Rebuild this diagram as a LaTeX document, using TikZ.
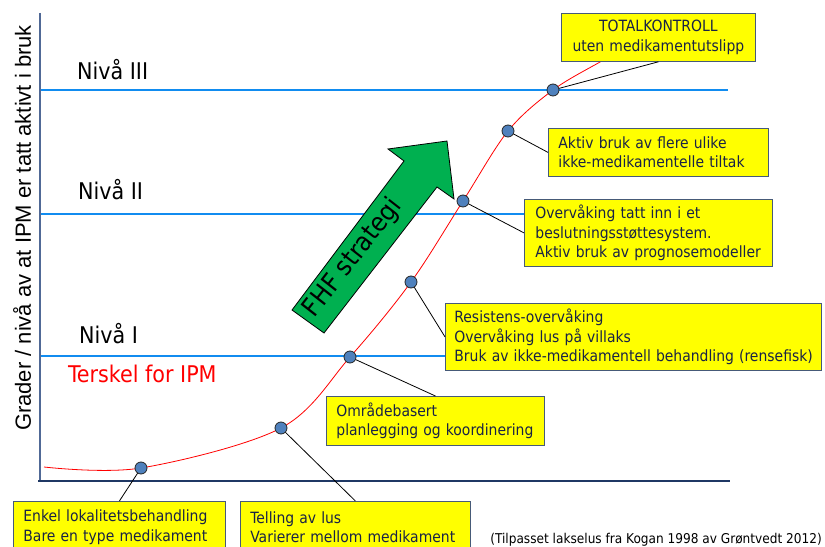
\documentclass[tikz,border=0pt]{standalone}
\usepackage{fontspec}
\setmainfont{DejaVu Sans Condensed}
\newfontfamily\arialf{Liberation Sans}
\definecolor{lvlblue}{RGB}{17,140,240}
\definecolor{axisnavy}{RGB}{31,56,100}
\definecolor{axisv}{RGB}{80,105,150}
\definecolor{dotblue}{RGB}{79,129,189}
\definecolor{boxtext}{RGB}{25,35,70}
\definecolor{boxedge}{RGB}{70,90,120}
\definecolor{arrowgreen}{RGB}{0,176,80}
\definecolor{yel}{RGB}{255,255,0}
\begin{document}
\begin{tikzpicture}[x=1bp,y=-1bp,
 ybox/.style={draw=boxedge, line width=0.8bp, fill=yel, text=boxtext,
   font=\fontsize{15.5bp}{19.5bp}\selectfont, anchor=north west,
   inner xsep=10bp, inner ysep=0pt, align=left},
 dot/.style={circle, draw=black!85, fill=dotblue, line width=0.8bp,
   minimum size=12bp, inner sep=0pt},
 conn/.style={draw=black, line width=0.8bp},
 lvl/.style={draw=lvlblue, line width=2.5bp},
 bigl/.style={font=\fontsize{23bp}{27bp}\selectfont, anchor=base west, inner sep=0pt}]
\useasboundingbox (0,0) rectangle (825,547);
\fill[white] (0,0) rectangle (825,547);

% level lines
\draw[lvl] (40,90) -- (728,90);
\draw[lvl] (40,214) -- (728,214);
\draw[lvl] (40,356) -- (728,356);

% axes
\draw[axisv, line width=1.2bp] (40,13) -- (40,482);
\draw[axisnavy, line width=2.5bp] (38,481) -- (730,481);

% labels
\node[bigl] (n3) at (77,80) {Nivå III};
\node[bigl] (n2) at (78,200) {Nivå II};
\node[bigl] (n1) at (79,343) {Nivå I};
\node[bigl, text=red] (terskel) at (68,382) {Terskel for IPM};
\node[font=\arialf\fontsize{22bp}{26bp}\selectfont, rotate=90] (ylab) at (22,228)
  {Grader / nivå av at IPM er tatt aktivt i bruk};

% points
\coordinate (p1) at (141,468);
\coordinate (p2) at (281,428);
\coordinate (p3) at (350,357);
\coordinate (p4) at (411,282);
\coordinate (p5) at (463,201);
\coordinate (p6) at (508,131);
\coordinate (p7) at (553,90);

% curve
\draw[red, line width=0.8bp] plot[smooth, tension=0.55] coordinates
  {(44,467) (141,468) (281,428) (350,357) (411,282) (463,201) (508,131) (553,90) (600,62) (640,40)};

% arrow
\draw[fill=arrowgreen, draw=black, line width=0.8bp]
  (292,310) -- (404,161) -- (388,149) -- (447,141) -- (454,199) -- (437,187) -- (324,333) -- cycle;
\node[font=\fontsize{26bp}{30bp}\selectfont, rotate=52] (fhf) at (353,258) {FHF strategi};

% boxes
\node[ybox, align=center, text width=174bp, minimum height=48bp] (bA) at (561,13)
  {TOTALKONTROLL\\uten medikamentutslipp};
\node[ybox, text width=200bp, minimum height=48bp] (bB) at (548,128)
  {Aktiv bruk av flere ulike\\ikke-medikamentelle tiltak};
\node[ybox, inner xsep=11bp, text width=226bp, minimum height=67bp] (bC) at (524,199)
  {Overvåking tatt inn i et\\beslutningsstøttesystem.\\Aktiv bruk av prognosemodeller};
\node[ybox, inner xsep=9bp, text width=358bp, minimum height=67bp] (bD) at (445,303)
  {Resistens-overvåking\\Overvåking lus på villaks\\\mbox{Bruk av ikke-medikamentell behandling (rensefisk)}};
\node[ybox, text width=198bp, minimum height=49bp] (bE) at (326,396)
  {Områdebasert\\planlegging og koordinering};
\node[ybox, text width=192bp, minimum height=52bp] (bF) at (13,501)
  {Enkel lokalitetsbehandling\\Bare en type medikament};
\node[ybox, text width=210bp, minimum height=52bp] (bG) at (240,501)
  {Telling av lus\\Varierer mellom medikament};

% connectors
\draw[conn] (p7) -- (bA.south);
\draw[conn] (p6) -- (bB.west);
\draw[conn] (p5) -- (bC.west);
\draw[conn] (p4) -- (bD.west);
\draw[conn] (p3) -- (bE.north);
\draw[conn] (p1) -- (bF.north);
\draw[conn] (p2) -- (bG.north);

% dots
\foreach \i in {1,...,7} \node[dot] (d\i) at (p\i) {};

% citation
\node[font=\fontsize{13.5bp}{16bp}\selectfont, anchor=base east, inner sep=0pt] (cite) at (822,543)
  {(Tilpasset lakselus fra Kogan 1998 av Grøntvedt 2012)};
\end{tikzpicture}
\end{document}
